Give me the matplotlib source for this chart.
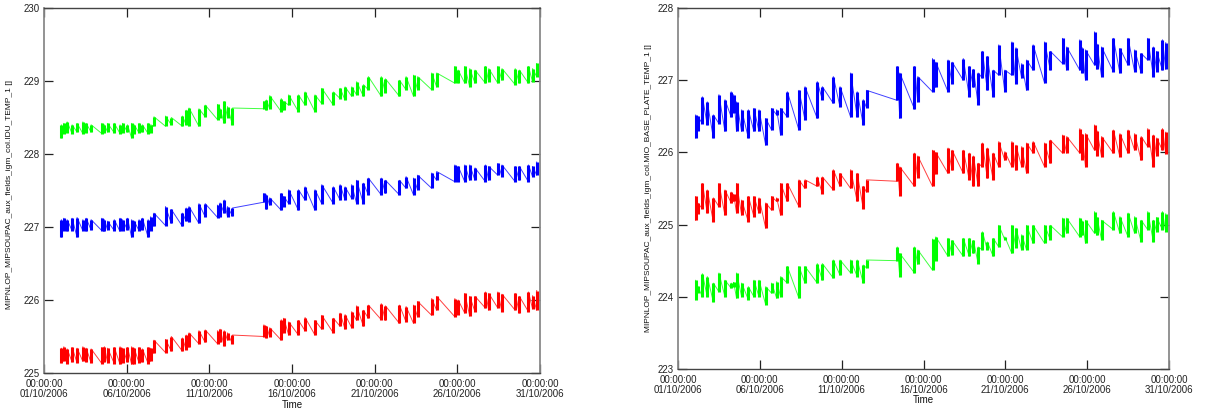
import datetime as dt
import numpy as np
import matplotlib
matplotlib.use("Agg")
import matplotlib.pyplot as plt
import matplotlib.dates as mdates

plt.rcParams['font.family'] = ['Liberation Sans', 'DejaVu Sans']

START = dt.datetime(2006, 10, 1)
END = dt.datetime(2006, 10, 31)
TICK_DAYS = [1, 6, 11, 16, 21, 26, 31]

# ---------------- Left chart: IDU_TEMP_1 (days since 01/10/2006 00:00) ----------------
left_t = [1.05, 1.2, 1.4, 1.7, 2.0, 2.35, 2.55, 2.85, 3.5, 3.65, 3.85, 4.25, 4.6, 4.75, 5.05, 5.3, 5.45,
          5.75, 5.95, 6.3, 6.45,
          6.65, 7.35, 7.7, 8.37, 8.6, 8.77, 9.37, 9.75, 10.5, 10.65, 10.9, 11.1, 11.4,
          13.3, 13.45, 13.65, 14.35, 14.5, 14.8,
          15.39, 15.79, 16.39, 16.8, 17.5, 17.91, 18.21, 18.61, 18.91, 19.32, 19.62, 20.4, 20.65,
          21.5, 21.9, 22.35, 22.6, 23.45, 23.75, 24.85, 25.05, 25.45, 25.75, 26.07, 26.7, 26.9,
          27.45, 27.7, 28.5, 28.75, 29.3, 29.55, 29.8]

left_green_lo = [228.22, 228.28, 228.29, 228.28, 228.30, 228.28, 228.29, 228.30, 228.28, 228.29, 228.30,
                 228.29, 228.28, 228.29, 228.30, 228.22, 228.28, 228.29, 228.30, 228.28, 228.29,
                 228.38, 228.38, 228.40, 228.38, 228.40, 228.38, 228.38, 228.51, 228.47, 228.50, 228.42,
                 228.50, 228.40,
                 228.62, 228.60, 228.62, 228.58, 228.60, 228.67,
                 228.58, 228.67, 228.58, 228.69, 228.67, 228.76, 228.74, 228.79, 228.81, 228.79, 228.88,
                 228.79, 228.84, 228.79, 228.88, 228.79, 228.88, 228.88, 228.92, 228.97, 228.97, 228.97,
                 228.92, 228.97, 228.97, 228.99, 228.97, 229.01, 228.95, 228.97, 228.97, 228.99, 229.06]
left_green_hi = [228.40, 228.42, 228.44, 228.40, 228.42, 228.44, 228.42, 228.40, 228.42, 228.40, 228.42,
                 228.42, 228.40, 228.42, 228.40, 228.42, 228.40, 228.42, 228.40, 228.42, 228.40,
                 228.51, 228.52, 228.50, 228.52, 228.60, 228.63, 228.62, 228.67, 228.68, 228.62, 228.72,
                 228.65, 228.63,
                 228.72, 228.74, 228.80, 228.76, 228.72, 228.81,
                 228.81, 228.85, 228.81, 228.90, 228.85, 228.90, 228.92, 228.92, 228.99, 228.95, 229.06,
                 229.06, 229.03, 229.01, 229.06, 229.08, 229.06, 229.11, 229.11, 229.20, 229.15, 229.20,
                 229.17, 229.15, 229.20, 229.17, 229.20, 229.17, 229.17, 229.15, 229.20, 229.17, 229.24]

left_blue_lo = [226.86, 226.95, 226.94, 226.95, 226.86, 226.95, 226.94, 226.96, 226.95, 226.94, 226.96,
                226.95, 226.94, 226.95, 226.96, 226.86, 226.94, 226.95, 226.96, 226.86, 226.95,
                227.01, 227.02, 227.05, 227.01, 227.08, 227.07, 227.05, 227.14, 227.13, 227.14, 227.19,
                227.14, 227.15,
                227.34, 227.24, 227.30, 227.23, 227.28, 227.32,
                227.23, 227.37, 227.23, 227.32, 227.32, 227.37, 227.37, 227.39, 227.32, 227.32, 227.44,
                227.44, 227.46, 227.44, 227.53, 227.44, 227.51, 227.53, 227.64, 227.62, 227.62, 227.62,
                227.64, 227.64, 227.62, 227.64, 227.71, 227.69, 227.62, 227.64, 227.62, 227.69, 227.71]
left_blue_hi = [227.10, 227.12, 227.10, 227.12, 227.13, 227.10, 227.12, 227.10, 227.12, 227.10, 227.08,
                227.10, 227.12, 227.10, 227.12, 227.10, 227.08, 227.10, 227.12, 227.10, 227.14,
                227.19, 227.28, 227.24, 227.19, 227.26, 227.28, 227.32, 227.32, 227.30, 227.33, 227.37,
                227.28, 227.26,
                227.46, 227.44, 227.40, 227.46, 227.42, 227.51,
                227.51, 227.55, 227.51, 227.58, 227.55, 227.58, 227.55, 227.58, 227.64, 227.60, 227.67,
                227.67, 227.64, 227.64, 227.69, 227.67, 227.71, 227.74, 227.76, 227.85, 227.83, 227.85,
                227.85, 227.81, 227.85, 227.83, 227.87, 227.85, 227.83, 227.83, 227.85, 227.83, 227.89]

left_red_lo = [225.14, 225.16, 225.13, 225.15, 225.14, 225.16, 225.15, 225.14, 225.13, 225.15, 225.14,
               225.13, 225.12, 225.14, 225.15, 225.12, 225.13, 225.14, 225.15, 225.13, 225.16,
               225.27, 225.28, 225.30, 225.30, 225.32, 225.35, 225.40, 225.42, 225.40, 225.42, 225.37,
               225.45, 225.40,
               225.50, 225.48, 225.50, 225.45, 225.55, 225.52,
               225.52, 225.58, 225.52, 225.60, 225.55, 225.64, 225.60, 225.62, 225.72, 225.64, 225.75,
               225.73, 225.72, 225.68, 225.70, 225.68, 225.77, 225.79, 225.86, 225.77, 225.80, 225.82,
               225.78, 225.84, 225.89, 225.86, 225.89, 225.84, 225.86, 225.82, 225.84, 225.88, 225.86]
left_red_hi = [225.34, 225.36, 225.33, 225.35, 225.34, 225.36, 225.34, 225.33, 225.35, 225.36, 225.34,
               225.35, 225.36, 225.34, 225.35, 225.36, 225.34, 225.35, 225.33, 225.35, 225.34,
               225.45, 225.46, 225.50, 225.48, 225.52, 225.55, 225.58, 225.59, 225.58, 225.60, 225.58,
               225.55, 225.52,
               225.66, 225.64, 225.62, 225.73, 225.75, 225.70,
               225.72, 225.76, 225.72, 225.79, 225.75, 225.82, 225.80, 225.84, 225.92, 225.86, 225.93,
               225.95, 225.92, 225.93, 225.91, 225.93, 225.98, 226.02, 226.05, 226.02, 226.00, 226.09,
               226.05, 226.05, 226.11, 226.09, 226.11, 226.08, 226.09, 226.05, 226.11, 226.06, 226.13]

# ---------------- Right chart: MIO_BASE_PLATE_TEMP_1 ----------------
right_t = [1.08, 1.2, 1.49, 1.79, 2.16, 2.5, 2.87, 3.25, 3.4, 3.58, 3.89, 4.3, 4.64, 4.95, 5.36, 5.72,
           6.03, 6.27, 6.68, 7.39, 7.76, 8.51, 8.82, 9.49, 9.9, 10.55, 10.95, 11.32, 11.52,
           13.4, 13.55, 14.45, 14.65,
           15.55, 15.75, 16.5, 16.75, 17.43, 17.8, 18.05, 18.34, 18.6, 18.9, 19.26, 19.6, 19.97, 20.4,
           20.65, 21.0, 21.3, 21.7, 22.4, 22.75, 23.5, 23.75, 24.55, 24.7, 24.9, 25.45, 25.6, 25.88,
           26.6, 27.0, 27.5, 27.9, 28.3, 28.7, 29.05, 29.25, 29.6, 29.8]

right_blue_lo = [226.20, 226.30, 226.40, 226.38, 226.20, 226.40, 226.29, 226.49, 226.55, 226.29, 226.29,
                 226.20, 226.29, 226.29, 226.10, 226.31, 226.52, 226.24, 226.49, 226.31, 226.45, 226.47,
                 226.73, 226.68, 226.63, 226.49, 226.49, 226.38, 226.62,
                 226.72, 226.47, 226.60, 226.70,
                 226.84, 226.90, 226.84, 226.95, 227.00, 226.77, 226.90, 226.66, 227.03, 226.86, 226.77,
                 227.07, 226.84, 227.07, 226.95, 227.03, 226.86, 227.14, 226.96, 227.14, 227.23, 227.14,
                 227.14, 227.10, 227.00, 227.21, 227.15, 227.05, 227.12, 227.10, 227.21, 227.12, 227.10,
                 227.28, 227.05, 227.12, 227.14, 227.15]
right_blue_hi = [226.52, 226.50, 226.77, 226.70, 226.52, 226.80, 226.73, 226.84, 226.80, 226.70, 226.59,
                 226.59, 226.61, 226.59, 226.47, 226.61, 226.59, 226.61, 226.84, 226.86, 226.91, 226.98,
                 226.91, 227.05, 226.91, 227.10, 226.84, 226.73, 226.86,
                 227.19, 227.10, 227.19, 227.05,
                 227.30, 227.25, 227.28, 227.25, 227.30, 227.19, 227.15, 227.10, 227.40, 227.33, 227.14,
                 227.49, 227.14, 227.53, 227.45, 227.23, 227.28, 227.49, 227.53, 227.40, 227.58, 227.46,
                 227.56, 227.45, 227.42, 227.67, 227.50, 227.46, 227.58, 227.44, 227.58, 227.42, 227.37,
                 227.58, 227.46, 227.40, 227.56, 227.52]

right_red_lo = [225.06, 225.15, 225.22, 225.16, 225.04, 225.25, 225.13, 225.30, 225.32, 225.16, 225.13,
                225.04, 225.11, 225.16, 224.95, 225.20, 225.32, 225.13, 225.32, 225.25, 225.50, 225.53,
                225.43, 225.48, 225.53, 225.50, 225.32, 225.22, 225.45,
                225.60, 225.40, 225.53, 225.65,
                225.53, 225.70, 225.71, 225.75, 225.71, 225.62, 225.53, 225.53, 225.80, 225.64, 225.62,
                225.80, 225.89, 225.80, 225.75, 225.80, 225.71, 225.99, 225.80, 225.85, 225.99, 225.99,
                225.99, 225.90, 225.80, 226.03, 225.95, 225.94, 225.99, 225.94, 225.99, 226.03, 225.89,
                226.08, 225.80, 225.95, 226.03, 225.98]
right_red_hi = [225.39, 225.30, 225.57, 225.48, 225.37, 225.57, 225.48, 225.45, 225.42, 225.57, 225.34,
                225.39, 225.39, 225.37, 225.30, 225.39, 225.37, 225.57, 225.57, 225.62, 225.62, 225.66,
                225.66, 225.76, 225.71, 225.76, 225.71, 225.53, 225.62,
                225.85, 225.80, 225.99, 225.95,
                226.03, 226.00, 226.06, 226.03, 226.03, 225.99, 225.95, 225.85, 226.13, 226.06, 225.99,
                226.15, 226.01, 226.15, 226.10, 226.08, 226.13, 226.15, 226.13, 226.17, 226.24, 226.22,
                226.33, 226.25, 226.26, 226.38, 226.30, 226.22, 226.31, 226.26, 226.31, 226.26, 226.22,
                226.33, 226.24, 226.20, 226.33, 226.28]

right_green_lo = [223.96, 224.05, 224.00, 224.00, 223.93, 224.07, 224.00, 224.12, 224.14, 223.98, 224.00,
                  223.96, 224.00, 224.00, 223.89, 224.05, 223.98, 224.00, 224.19, 223.98, 224.19, 224.19,
                  224.23, 224.26, 224.30, 224.33, 224.28, 224.19, 224.40,
                  224.50, 224.28, 224.33, 224.45,
                  224.37, 224.50, 224.56, 224.58, 224.56, 224.56, 224.60, 224.46, 224.65, 224.65, 224.56,
                  224.69, 224.79, 224.60, 224.68, 224.65, 224.65, 224.74, 224.74, 224.79, 224.83, 224.88,
                  224.83, 224.85, 224.74, 224.88, 224.85, 224.79, 224.93, 224.88, 224.83, 224.88, 224.76,
                  224.93, 224.76, 224.90, 224.93, 224.90]
right_green_hi = [224.23, 224.15, 224.32, 224.28, 224.19, 224.33, 224.23, 224.19, 224.20, 224.33, 224.19,
                  224.14, 224.23, 224.23, 224.14, 224.19, 224.21, 224.28, 224.42, 224.42, 224.42, 224.46,
                  224.46, 224.51, 224.51, 224.51, 224.51, 224.44, 224.51,
                  224.69, 224.60, 224.69, 224.65,
                  224.80, 224.83, 224.81, 224.78, 224.81, 224.81, 224.78, 224.69, 224.90, 224.76, 224.81,
                  224.99, 224.83, 224.99, 224.95, 224.86, 224.99, 224.99, 224.99, 224.99, 225.09, 225.09,
                  225.09, 225.05, 225.06, 225.18, 225.10, 225.06, 225.18, 225.11, 225.16, 225.11, 225.06,
                  225.18, 225.06, 225.10, 225.18, 225.15]

left_ylabel = "MIPNLOP_MIPSOUPAC_aux_fields_igm_col.IDU_TEMP_1 []"
right_ylabel = "MIPNLOP_MIPSOUPAC_aux_fields_igm_col.MIO_BASE_PLATE_TEMP_1 []"
left_yticks = [225, 226, 227, 228, 229, 230]
right_yticks = [223, 224, 225, 226, 227, 228]

BLUE, RED, GREEN = "#0000ff", "#ff0000", "#00ff00"


def to_num(days):
    return mdates.date2num([START + dt.timedelta(days=d) for d in days])


def draw_series(ax, t, lo, hi, color):
    x = to_num(t)
    lo = np.asarray(lo)
    hi = np.asarray(hi)
    ax.plot(np.repeat(x, 2), np.column_stack([lo, hi]).ravel(), color=color, lw=0.7,
            alpha=0.75, zorder=2)
    ax.vlines(x, lo, hi, colors=color, lw=2.2, zorder=3)


def style_axes(ax, yticks, ylabel, ylab_x, ylab_y, xlab_y):
    ax.set_xlim(mdates.date2num(START), mdates.date2num(END))
    ax.set_ylim(yticks[0], yticks[-1])
    ax.set_yticks(yticks)
    ax.xaxis.set_major_locator(mdates.DayLocator(bymonthday=TICK_DAYS))
    ax.xaxis.set_major_formatter(mdates.DateFormatter('%H:%M:%S\n%d/%m/%Y'))
    ax.tick_params(direction='in', length=6.5, width=0.9, top=True, right=True,
                   labelsize=7, colors='#222222')
    ax.tick_params(axis='x', pad=4.5)
    ax.tick_params(axis='y', pad=3)
    for lab in ax.get_xticklabels():
        lab.set_linespacing(0.95)
    for side in ['left', 'right']:
        ax.spines[side].set_color('#8a8a8a')
        ax.spines[side].set_linewidth(1.3)
    for side in ['top', 'bottom']:
        ax.spines[side].set_color('#444444')
        ax.spines[side].set_linewidth(1.0)
    ax.set_ylabel(ylabel, fontsize=6, color='#111111')
    ax.yaxis.set_label_coords(ylab_x, ylab_y)
    ax.set_xlabel('Time', fontsize=7, color='#111111')
    ax.xaxis.set_label_coords(0.5, xlab_y)


fig = plt.figure(figsize=(12.05, 4.09), dpi=100)
axL = fig.add_axes([44 / 1205, 1 - 373 / 409, 496 / 1205, 365 / 409])
axR = fig.add_axes([678 / 1205, 1 - 369 / 409, 491 / 1205, 361 / 409])

draw_series(axL, left_t, left_green_lo, left_green_hi, GREEN)
draw_series(axL, left_t, left_blue_lo, left_blue_hi, BLUE)
draw_series(axL, left_t, left_red_lo, left_red_hi, RED)

draw_series(axR, right_t, right_blue_lo, right_blue_hi, BLUE)
draw_series(axR, right_t, right_red_lo, right_red_hi, RED)
draw_series(axR, right_t, right_green_lo, right_green_hi, GREEN)

style_axes(axL, left_yticks, left_ylabel, -0.062, 0.49, -0.075)
style_axes(axR, right_yticks, right_ylabel, -0.053, 0.5, -0.072)

fig.savefig("out.png", dpi=100)
